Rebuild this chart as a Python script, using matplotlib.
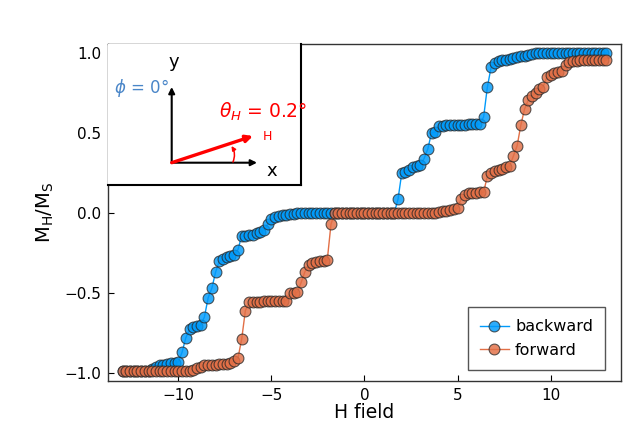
import numpy as np
import matplotlib
matplotlib.use("Agg")
import matplotlib.pyplot as plt

# H field grid
H = np.round(np.linspace(-13, 13, 131), 2)

backward = [
    -0.99, -0.99, -0.99, -0.99, -0.99, -0.99, -0.99, -0.985, -0.975, -0.965,
    -0.95, -0.948, -0.944, -0.94, -0.935, -0.93, -0.87, -0.78, -0.727, -0.714,
    -0.706, -0.70, -0.65, -0.53, -0.47, -0.37, -0.30, -0.29, -0.277, -0.27,
    -0.26, -0.23, -0.144, -0.144, -0.14, -0.137, -0.127, -0.118, -0.108, -0.07,
    -0.035, -0.025, -0.02, -0.015, -0.012, -0.008, -0.005, -0.003, -0.002, -0.001,
    0, 0, 0, 0, 0, 0, 0, 0, 0, 0,
    0, 0, 0, 0, 0, 0, 0, 0, 0, 0,
    0, 0, 0, 0, 0.086, 0.248, 0.254, 0.27, 0.285, 0.294,
    0.30, 0.34, 0.40, 0.50, 0.505, 0.545, 0.546, 0.547, 0.548, 0.549,
    0.55, 0.551, 0.552, 0.553, 0.554, 0.555, 0.556, 0.60, 0.786, 0.91,
    0.94, 0.95, 0.955, 0.958, 0.962, 0.97, 0.975, 0.978, 0.982, 0.99,
    0.995, 0.997, 0.998, 0.999, 1.0, 1.0, 1.0, 1.0, 1.0, 1.0,
    1.0, 1.0, 1.0, 1.0, 1.0, 1.0, 1.0, 1.0, 1.0, 1.0, 1.0,
]

forward = [
    -0.99, -0.99, -0.99, -0.99, -0.99, -0.99, -0.99, -0.99, -0.99, -0.99,
    -0.99, -0.99, -0.99, -0.99, -0.99, -0.99, -0.99, -0.99, -0.99, -0.98,
    -0.97, -0.96, -0.952, -0.95, -0.948, -0.947, -0.946, -0.945, -0.943, -0.94,
    -0.925, -0.908, -0.79, -0.61, -0.558, -0.556, -0.555, -0.554, -0.553, -0.552,
    -0.551, -0.55, -0.549, -0.548, -0.548, -0.50, -0.497, -0.495, -0.433, -0.367,
    -0.325, -0.31, -0.305, -0.30, -0.297, -0.294, -0.07, 0, 0, 0,
    0, 0, 0, 0, 0, 0, 0, 0, 0, 0,
    0, 0, 0, 0, 0, 0, 0, 0, 0, 0,
    0, 0, 0, 0, 0.003, 0.008, 0.01, 0.013, 0.018, 0.023,
    0.03, 0.09, 0.115, 0.122, 0.125, 0.127, 0.128, 0.13, 0.23, 0.248,
    0.265, 0.27, 0.275, 0.285, 0.294, 0.356, 0.42, 0.55, 0.65, 0.706,
    0.73, 0.752, 0.773, 0.79, 0.85, 0.865, 0.872, 0.88, 0.89, 0.925,
    0.946, 0.95, 0.952, 0.953, 0.954, 0.955, 0.955, 0.955, 0.955, 0.955, 0.955,
]

series_labels = ["backward", "forward"]
xticks = [-10, -5, 0, 5, 10]
yticks = [-1.0, -0.5, 0.0, 0.5, 1.0]

plt.rcParams['font.family'] = ['DejaVu Sans']

W, Hpx = 634, 433
fig = plt.figure(figsize=(W / 100, Hpx / 100), dpi=100)
ax = fig.add_axes([108 / W, 1 - 381 / Hpx, 513 / W, 337 / Hpx])

blue = '#009AFA'
orange = '#E26F46'
for y, c, lab in [(backward, blue, series_labels[0]), (forward, orange, series_labels[1])]:
    ax.plot(H, y, '-', color=c, lw=1.0, marker='o', ms=7.8,
            markerfacecolor=matplotlib.colors.to_rgba(c, 0.82),
            markeredgecolor=(0.15, 0.15, 0.15, 0.75), markeredgewidth=0.8,
            label=lab)

ax.set_xlim(-13.78, 13.78)
ax.set_ylim(-1.05, 1.056)
ax.set_xticks(xticks)
ax.set_xticklabels([f"{t:d}".replace('-', '\u2212') for t in xticks])
ax.set_yticks(yticks)
ax.set_yticklabels([f"{t:.1f}".replace('-', '\u2212') for t in yticks])
ax.tick_params(direction='in', length=4, width=0.8, labelsize=11, colors='black', pad=5)
for s in ax.spines.values():
    s.set_color('#333333')
    s.set_linewidth(1.0)
ax.set_xlabel('H field', fontsize=13.5, labelpad=0)
ax.set_ylabel(r'M$_{\mathrm{H}}$/M$_{\mathrm{S}}$', fontsize=14, labelpad=6)

leg = ax.legend(loc='lower right', bbox_to_anchor=((605 - 108) / 513, (381 - 370) / 337),
                borderaxespad=0, fontsize=11.5, fancybox=False, framealpha=1,
                edgecolor='#555555', handlelength=1.8,
                borderpad=0.75, labelspacing=0.55, handletextpad=0.4)
leg.get_frame().set_linewidth(1.0)

# Inset diagram
ax2 = fig.add_axes([108 / W, 1 - 185 / Hpx, (300.7 - 108) / W, (185 - 44) / Hpx])
ax2.set_xlim(108, 300.7)
ax2.set_ylim(185, 44)
ax2.set_xticks([])
ax2.set_yticks([])
ax2.spines['left'].set_visible(False)
ax2.spines['top'].set_visible(False)
ax2.spines['right'].set_color('black')
ax2.spines['bottom'].set_color('black')
ax2.spines['right'].set_linewidth(1.5)
ax2.spines['bottom'].set_linewidth(1.5)

ox, oy = 171.7, 162.7
ax2.annotate('', xy=(257, oy), xytext=(ox, oy),
             arrowprops=dict(arrowstyle='-|>', color='black', lw=1.5, mutation_scale=9, shrinkA=0, shrinkB=0))
ax2.annotate('', xy=(ox, 87), xytext=(ox, oy),
             arrowprops=dict(arrowstyle='-|>', color='black', lw=1.5, mutation_scale=9, shrinkA=0, shrinkB=0))
ax2.annotate('', xy=(253, 136), xytext=(ox, oy),
             arrowprops=dict(arrowstyle='-|>', color='#FF0000', lw=2.4, mutation_scale=10, shrinkA=0, shrinkB=0))
ax2.annotate('', xy=(231.5, 146), xytext=(233, 162),
             arrowprops=dict(arrowstyle='-|>', color='#FF0000', lw=1.1, mutation_scale=6,
                             shrinkA=0, shrinkB=0, connectionstyle='arc3,rad=0.25'))
ax2.text(174, 61.5, 'y', fontsize=13, ha='center', va='center', color='black')
ax2.text(272, 171.5, 'x', fontsize=13, ha='center', va='center', color='black')
ax2.text(114, 88, r'$\phi$ = 0°', fontsize=12, ha='left', va='center', color='#4A86C8')
ax2.text(219, 112, r'$\theta_H$ = 0.2°', fontsize=13.5, ha='left', va='center', color='#FF0000')
ax2.text(267, 137, 'H', fontsize=9, ha='center', va='center', color='#FF0000')

fig.savefig('out.png', dpi=100)
